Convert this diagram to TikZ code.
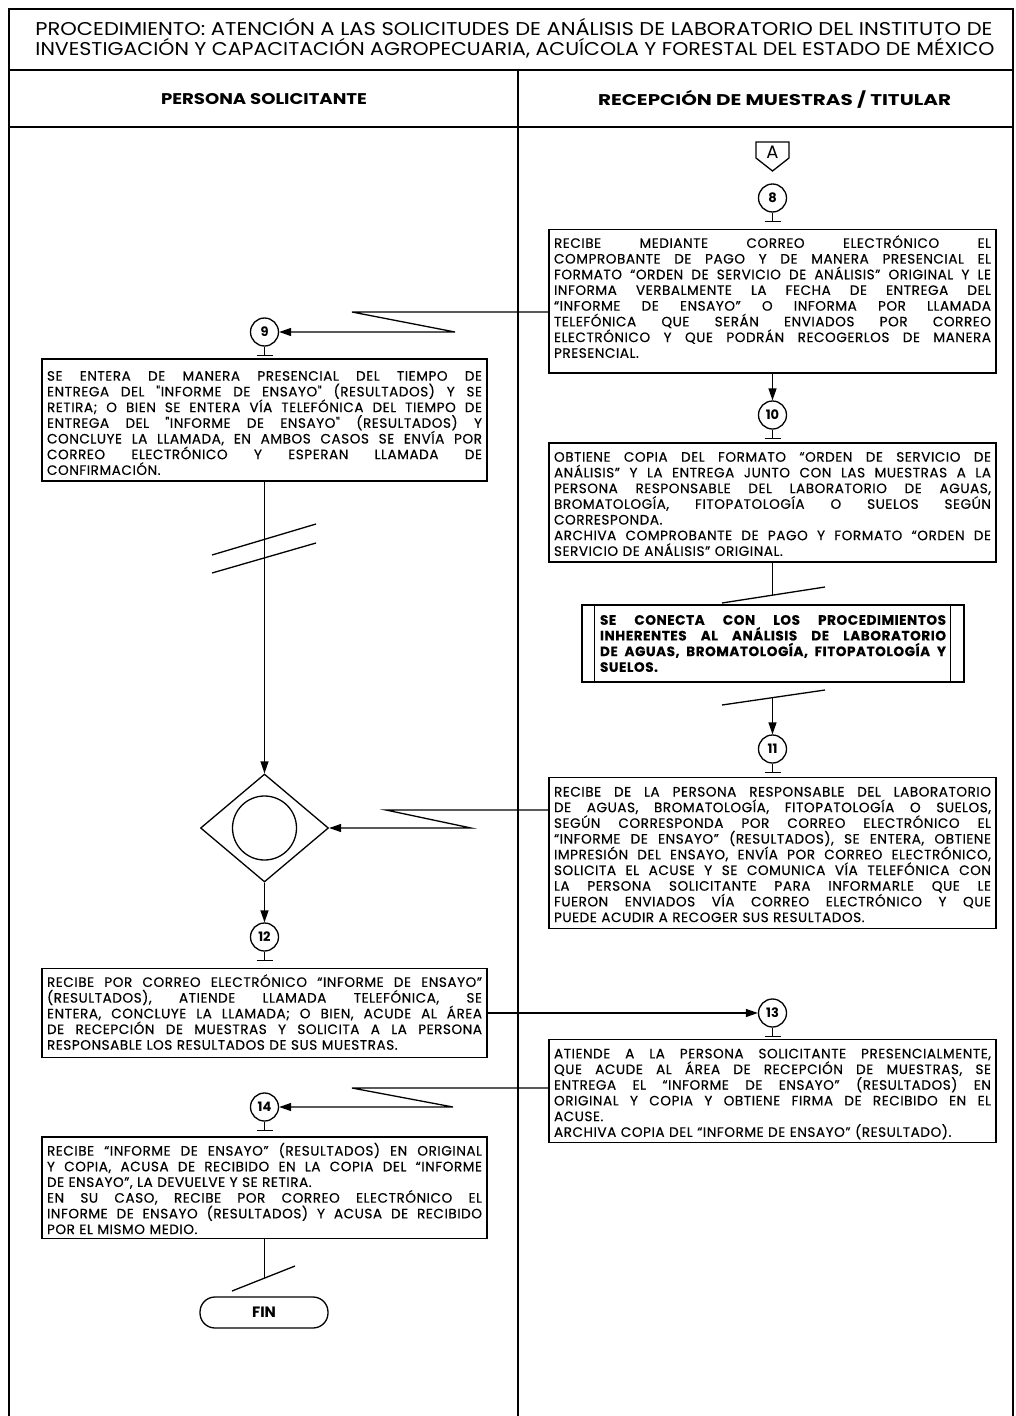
\documentclass[tikz,border=0pt]{standalone}
\usepackage{graphicx}
\usepackage{fontspec}
\setmainfont{Poppins}
\newfontfamily\bodyfam{Poppins}[LetterSpace=4,FakeBold=0.4]
\newfontfamily\titlefam{Poppins}
\usetikzlibrary{shapes.geometric,arrows.meta}
\newsavebox\jlbox
\newcommand\jl[1]{\par\noindent\sbox\jlbox{#1}\ifdim\wd\jlbox>\hsize\resizebox{\hsize}{\height}{\usebox\jlbox}\else\makebox[\hsize][s]{\spaceskip=.3em plus 1fil\relax#1}\fi\par}
\newcommand\lastl[1]{\par\noindent\sbox\jlbox{#1}\ifdim\wd\jlbox>\hsize\resizebox{\hsize}{\height}{\usebox\jlbox}\else\usebox\jlbox\fi\par}
\newcommand\padb[1]{\par\kern#1\relax}
\newcommand\bodyf{\bodyfam\fontsize{13.6pt}{15.7pt}\selectfont}
\tikzset{
  ln/.style={line width=1.3pt},
  frm/.style={line width=2.2pt},
  arr/.style={-{Triangle[length=12pt,width=8pt]}},
  bx/.style={draw, line width=1.3pt, rectangle, inner xsep=5pt, inner ysep=3pt, text width=#1, font=\bodyf},
  cnum/.style={circle, draw, line width=1.3pt, minimum size=28pt, inner sep=0pt, font=\bfseries\fontsize{13pt}{13pt}\selectfont},
}
\begin{document}
\begin{tikzpicture}[x=1pt,y=-1pt]
\useasboundingbox (0,0) rectangle (1016,1416);
% frame
\draw[frm] (9,1416) -- (9,9) -- (1013,9) -- (1013,1416);
\draw[frm] (9,70) -- (1013,70);
\draw[frm] (9,127) -- (1013,127);
\draw[frm] (518,70) -- (518,1416);
% title
\node (T1) at (514,27) {\resizebox{957pt}{\height}{\titlefam\fontsize{18.5pt}{21pt}\selectfont PROCEDIMIENTO: ATENCIÓN A LAS SOLICITUDES DE ANÁLISIS DE LABORATORIO DEL INSTITUTO DE}};
\node (T2) at (515,48) {\resizebox{959pt}{\height}{\titlefam\fontsize{18.5pt}{21pt}\selectfont INVESTIGACIÓN Y CAPACITACIÓN AGROPECUARIA, ACUÍCOLA Y FORESTAL DEL ESTADO DE MÉXICO}};
\node (H1) at (264,99) {\resizebox{206pt}{\height}{\bfseries\fontsize{15.5pt}{18pt}\selectfont PERSONA SOLICITANTE}};
\node (H2) at (774.5,99) {\resizebox{353pt}{\height}{\bfseries\fontsize{15.5pt}{18pt}\selectfont RECEPCIÓN DE MUESTRAS / TITULAR}};

% connector A
\draw[ln] (756,142) -- (789,142) -- (789,158) -- (772.5,171) -- (756,158) -- cycle;
\node[font=\fontsize{18pt}{18pt}\selectfont] (A) at (772.5,152) {A};

% step 8
\node[cnum] (c8) at (772.5,198) {8};
\draw[ln] (c8.south) -- ++(0,9) ++(-8,0) -- ++(16,0);
\node[bx=437pt, minimum height=142pt] (B8) at (772.5,301) {%
\jl{RECIBE MEDIANTE CORREO ELECTRÓNICO EL}%
\jl{COMPROBANTE DE PAGO Y DE MANERA PRESENCIAL EL}%
\jl{FORMATO “ORDEN DE SERVICIO DE ANÁLISIS” ORIGINAL Y LE}%
\jl{INFORMA VERBALMENTE LA FECHA DE ENTREGA DEL}%
\jl{“INFORME DE ENSAYO” O INFORMA POR LLAMADA}%
\jl{TELEFÓNICA QUE SERÁN ENVIADOS POR CORREO}%
\jl{ELECTRÓNICO Y QUE PODRÁN RECOGERLOS DE MANERA}%
\lastl{PRESENCIAL.}\padb{12pt}};

% step 9
\node[cnum] (c9) at (264.5,332) {9};
\draw[ln] (c9.south) -- ++(0,9) ++(-8,0) -- ++(16,0);
\coordinate (z1a) at (352,312);
\coordinate (z1b) at (455,332);
\draw[ln,arr] (B8.west |- z1a) -- (z1a) -- (z1b) -- (c9.east);
\node[bx=435pt, minimum height=122pt] (B9) at (264.5,420) {%
\jl{SE ENTERA DE MANERA PRESENCIAL DEL TIEMPO DE}%
\jl{ENTREGA DEL "INFORME DE ENSAYO" (RESULTADOS) Y SE}%
\jl{RETIRA; O BIEN SE ENTERA VÍA TELEFÓNICA DEL TIEMPO DE}%
\jl{ENTREGA DEL "INFORME DE ENSAYO" (RESULTADOS) Y}%
\jl{CONCLUYE LA LLAMADA, EN AMBOS CASOS SE ENVÍA POR}%
\jl{CORREO ELECTRÓNICO Y ESPERAN LLAMADA DE}%
\lastl{CONFIRMACIÓN.}};

% step 10
\node[cnum] (c10) at (772.5,415) {10};
\draw[ln] (c10.south) -- ++(0,9) ++(-8,0) -- ++(16,0);
\draw[ln,arr] (B8.south) -- (c10.north);
\node[bx=437pt, minimum height=115pt] (B10) at (772.5,502.5) {%
\jl{OBTIENE COPIA DEL FORMATO “ORDEN DE SERVICIO DE}%
\jl{ANÁLISIS” Y LA ENTREGA JUNTO CON LAS MUESTRAS A LA}%
\jl{PERSONA RESPONSABLE DEL LABORATORIO DE AGUAS,}%
\jl{BROMATOLOGÍA, FITOPATOLOGÍA O SUELOS SEGÚN}%
\lastl{CORRESPONDA.}%
\jl{ARCHIVA COMPROBANTE DE PAGO Y FORMATO “ORDEN DE}%
\lastl{SERVICIO DE ANÁLISIS” ORIGINAL.}\padb{3pt}};

% link to other procedures
\coordinate (s1l) at (722,603);
\coordinate (s1r) at (825,587);
\coordinate (s1m) at (772.5,595.2);
\draw[ln] (s1l) -- (s1r);
\draw[ln] (B10.south) -- (s1m);
\node[bx=346pt, inner xsep=18pt, minimum height=77pt, font=\bodyf\bfseries] (conn) at (773,643.5) {%
\jl{SE CONECTA CON LOS PROCEDIMIENTOS}%
\jl{INHERENTES AL ANÁLISIS DE LABORATORIO}%
\jl{DE AGUAS, BROMATOLOGÍA, FITOPATOLOGÍA Y}%
\lastl{SUELOS.}\padb{6pt}};
\draw[ln] ([xshift=13pt]conn.north west) -- ([xshift=13pt]conn.south west);
\draw[ln] ([xshift=-14pt]conn.north east) -- ([xshift=-14pt]conn.south east);
\coordinate (s2l) at (722,705);
\coordinate (s2r) at (825,690);
\coordinate (s2m) at (772.5,697.6);
\draw[ln] (s2l) -- (s2r);

% step 11
\node[cnum] (c11) at (772.5,749) {11};
\draw[ln] (c11.south) -- ++(0,9) ++(-8,0) -- ++(16,0);
\draw[ln,arr] (s2m) -- (c11.north);
\node[bx=437pt, minimum height=150pt] (B11) at (772.5,853) {%
\jl{RECIBE DE LA PERSONA RESPONSABLE DEL LABORATORIO}%
\jl{DE AGUAS, BROMATOLOGÍA, FITOPATOLOGÍA O SUELOS,}%
\jl{SEGÚN CORRESPONDA POR CORREO ELECTRÓNICO EL}%
\jl{“INFORME DE ENSAYO” (RESULTADOS), SE ENTERA, OBTIENE}%
\jl{IMPRESIÓN DEL ENSAYO, ENVÍA POR CORREO ELECTRÓNICO,}%
\jl{SOLICITA EL ACUSE Y SE COMUNICA VÍA TELEFÓNICA CON}%
\jl{LA PERSONA SOLICITANTE PARA INFORMARLE QUE LE}%
\jl{FUERON ENVIADOS VÍA CORREO ELECTRÓNICO Y QUE}%
\lastl{PUEDE ACUDIR A RECOGER SUS RESULTADOS.}\padb{3pt}};

% decision / wait
\node[diamond, draw, ln, minimum width=128pt, minimum height=108pt, inner sep=0pt] (dec) at (264.5,828) {};
\node[circle, draw, ln, minimum size=64pt, inner sep=0pt] (decc) at (dec.center) {};
\coordinate (b1a) at (212,555);
\coordinate (b1b) at (316,524);
\coordinate (b2a) at (212,573);
\coordinate (b2b) at (316,543);
\draw[ln,arr] (B9.south) -- (dec.north);
\draw[ln] (b1a) -- (b1b);
\draw[ln] (b2a) -- (b2b);
\coordinate (z2a) at (386,810);
\coordinate (z2b) at (471,828);
\draw[ln,arr] (B11.west |- z2a) -- (z2a) -- (z2b) -- (dec.east);

% step 12
\node[cnum] (c12) at (264.5,937) {12};
\draw[ln] (c12.south) -- ++(0,9) ++(-8,0) -- ++(16,0);
\draw[ln,arr] (dec.south) -- (c12.north);
\node[bx=435pt, minimum height=89pt] (B12) at (264.5,1013) {%
\jl{RECIBE POR CORREO ELECTRÓNICO “INFORME DE ENSAYO”}%
\jl{(RESULTADOS), ATIENDE LLAMADA TELEFÓNICA, SE}%
\jl{ENTERA, CONCLUYE LA LLAMADA; O BIEN, ACUDE AL ÁREA}%
\jl{DE RECEPCIÓN DE MUESTRAS Y SOLICITA A LA PERSONA}%
\lastl{RESPONSABLE LOS RESULTADOS DE SUS MUESTRAS.}\padb{5pt}};

% step 13
\node[cnum] (c13) at (772.5,1013) {13};
\draw[ln] (c13.south) -- ++(0,9) ++(-8,0) -- ++(16,0);
\draw[ln,arr] (B12.east) -- (c13.west);
\node[bx=437pt, minimum height=98pt] (B13) at (772.5,1091) {%
\jl{ATIENDE A LA PERSONA SOLICITANTE PRESENCIALMENTE,}%
\jl{QUE ACUDE AL ÁREA DE RECEPCIÓN DE MUESTRAS, SE}%
\jl{ENTREGA EL “INFORME DE ENSAYO” (RESULTADOS) EN}%
\jl{ORIGINAL Y COPIA Y OBTIENE FIRMA DE RECIBIDO EN EL}%
\lastl{ACUSE.}%
\lastl{ARCHIVA COPIA DEL “INFORME DE ENSAYO” (RESULTADO).}};

% step 14
\node[cnum] (c14) at (264.5,1107) {14};
\draw[ln] (c14.south) -- ++(0,9) ++(-8,0) -- ++(16,0);
\coordinate (z4a) at (352,1088);
\coordinate (z4b) at (453,1107);
\draw[ln,arr] (B13.west |- z4a) -- (z4a) -- (z4b) -- (c14.east);
\node[bx=435pt, minimum height=101pt] (B14) at (264.5,1187.5) {%
\jl{RECIBE “INFORME DE ENSAYO” (RESULTADOS) EN ORIGINAL}%
\jl{Y COPIA, ACUSA DE RECIBIDO EN LA COPIA DEL “INFORME}%
\lastl{DE ENSAYO”, LA DEVUELVE Y SE RETIRA.}%
\jl{EN SU CASO, RECIBE POR CORREO ELECTRÓNICO EL}%
\jl{INFORME DE ENSAYO (RESULTADOS) Y ACUSA DE RECIBIDO}%
\lastl{POR EL MISMO MEDIO.}\padb{1pt}};

% end
\coordinate (s3l) at (232,1291);
\coordinate (s3r) at (295,1266);
\coordinate (s3m) at (264.5,1278.1);
\draw[ln] (s3l) -- (s3r);
\draw[ln] (B14.south) -- (s3m);
\node[draw, ln, rounded corners=15pt, minimum width=128pt, minimum height=31pt, font=\bfseries\fontsize{15pt}{15pt}\selectfont] (fin) at (264,1312.5) {FIN};
\end{tikzpicture}
\end{document}
